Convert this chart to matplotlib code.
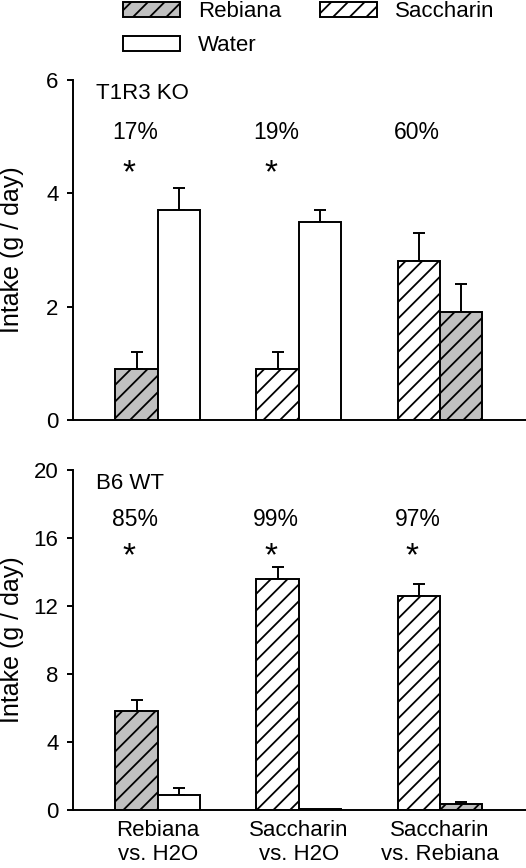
import matplotlib
matplotlib.use('Agg')
import matplotlib.pyplot as plt
from matplotlib.patches import Patch
import numpy as np

plt.rcParams['font.family'] = ['Liberation Sans', 'DejaVu Sans']
plt.rcParams['hatch.linewidth'] = 1.3

# data
groups = ['Rebiana\nvs. H2O', 'Saccharin\nvs. H2O', 'Saccharin\nvs. Rebiana']
left_kind = ['Rebiana', 'Saccharin', 'Saccharin']
right_kind = ['Water', 'Water', 'Rebiana']

ko_left = [0.9, 0.9, 2.8]
ko_left_err = [0.3, 0.3, 0.5]
ko_right = [3.7, 3.5, 1.9]
ko_right_err = [0.4, 0.2, 0.5]
ko_pct = ['17%', '19%', '60%']
ko_star = [True, True, False]

wt_left = [5.8, 13.6, 12.6]
wt_left_err = [0.7, 0.7, 0.7]
wt_right = [0.9, 0.05, 0.35]
wt_right_err = [0.4, 0.0, 0.15]
wt_pct = ['85%', '99%', '97%']
wt_star = [True, True, True]

styles = {
    'Rebiana': dict(facecolor='#c0c0c0', hatch='//'),
    'Saccharin': dict(facecolor='white', hatch='//'),
    'Water': dict(facecolor='white', hatch=''),
}

fig = plt.figure(figsize=(5.26, 8.68), dpi=100)
ax1 = fig.add_axes([0.1388, 0.5161, 0.8612, 0.3917])
ax2 = fig.add_axes([0.1388, 0.0668, 0.8612, 0.3917])

x = np.arange(len(groups))
w = 0.3


def draw(ax, lv, le, rv, re, pct, star, ymax, ticks, name, pct_y, star_y):
    for i in range(len(groups)):
        for xx, v, e, kind in [(x[i] - w / 2, lv[i], le[i], left_kind[i]),
                               (x[i] + w / 2, rv[i], re[i], right_kind[i])]:
            ax.bar(xx, v, w, edgecolor='black', linewidth=1.4, zorder=2, **styles[kind])
            if e > 0:
                ax.errorbar(xx, v, yerr=[[0], [e]], fmt='none', ecolor='black',
                            elinewidth=1.4, capsize=4, capthick=1.4, zorder=1)
        ax.text(x[i] - 0.16, pct_y, pct[i], ha='center', va='center', fontsize=16.5)
        if star[i]:
            ax.text(x[i] - 0.2, star_y, '*', ha='center', va='baseline', fontsize=24)
    ax.text(0.05, 0.96, name, transform=ax.transAxes, ha='left', va='center', fontsize=16)
    ax.set_xlim(-0.6, 2.61)
    ax.set_ylim(0, ymax)
    ax.set_yticks(ticks)
    ax.spines['top'].set_visible(False)
    ax.spines['right'].set_visible(False)
    ax.spines['left'].set_linewidth(1.4)
    ax.spines['bottom'].set_linewidth(1.4)
    ax.tick_params(axis='y', direction='out', length=4.5, width=1.4, labelsize=16, pad=6)
    ax.set_ylabel('Intake (g / day)', fontsize=18)
    ax.yaxis.set_label_coords(-0.108, 0.5)


draw(ax1, ko_left, ko_left_err, ko_right, ko_right_err, ko_pct, ko_star,
     6, [0, 2, 4, 6], 'T1R3 KO', 5.08, 4.2)
draw(ax2, wt_left, wt_left_err, wt_right, wt_right_err, wt_pct, wt_star,
     20, [0, 4, 8, 12, 16, 20], 'B6 WT', 17.1, 14.4)

ax1.set_xticks([])
ax2.set_xticks(x)
ax2.set_xticklabels(groups, fontsize=16)
ax2.tick_params(axis='x', length=0, pad=7)

# legend
handles = [Patch(edgecolor='black', linewidth=1.4, label=k, **styles[k])
           for k in ['Rebiana', 'Water', 'Saccharin']]
fig.legend(handles=handles, loc='upper left', bbox_to_anchor=(0.232, 1.0), ncol=2,
           frameon=False, fontsize=16, handlelength=2.56, handleheight=0.68,
           handletextpad=0.8, columnspacing=1.75, labelspacing=0.6,
           borderpad=0.05, borderaxespad=0)

fig.savefig('out.png', dpi=100)
